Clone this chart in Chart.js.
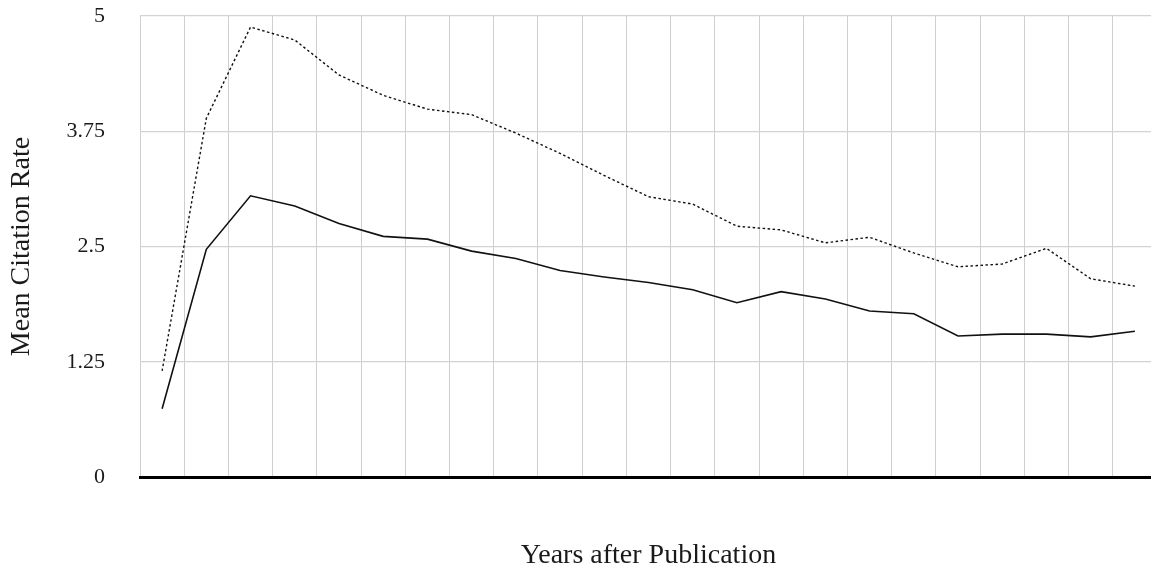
<!DOCTYPE html>
<html>
<head>
<meta charset="utf-8">
<title>Mean Citation Rate</title>
<script src="https://cdn.jsdelivr.net/npm/chart.js@4"></script>
<style>
    html, body { margin: 0; padding: 0; background: #fff; overflow: hidden; }
    .chart-box { width: 1158px; height: 573px; position: relative; }
</style>
</head>
<body>
<div class="chart-box"><canvas id="citeChart"></canvas></div>
<script>
// ─── DATA ───
const years = ['1', '2', '3', '4', '5', '6', '7', '8', '9', '10', '11', '12',
               '13', '14', '15', '16', '17', '18', '19', '20', '21', '22', '23'];
const solidRates = [0.74, 2.47, 3.05, 2.94, 2.75, 2.61, 2.58, 2.45, 2.37, 2.24, 2.17, 2.11,
                    2.03, 1.89, 2.01, 1.93, 1.80, 1.77, 1.53, 1.55, 1.55, 1.52, 1.58];
const dottedRates = [1.15, 3.89, 4.88, 4.74, 4.36, 4.14, 3.99, 3.93, 3.73, 3.51, 3.27, 3.04,
                     2.96, 2.72, 2.68, 2.54, 2.60, 2.43, 2.28, 2.31, 2.48, 2.15, 2.07];
const yTicks = [0, 1.25, 2.5, 3.75, 5];

Chart.defaults.font.family = "'Liberation Serif', 'DejaVu Serif', serif";
Chart.defaults.color = '#1a1a1a';

// ─── CHART ───
new Chart(document.getElementById('citeChart'), {
    type: 'line',
    data: {
        labels: years,
        datasets: [
            {
                label: 'Upper',
                data: dottedRates,
                borderColor: '#111',
                borderWidth: 1.4,
                borderDash: [2.5, 2.5],
                pointRadius: 0,
                tension: 0,
                fill: false,
            },
            {
                label: 'Mean',
                data: solidRates,
                borderColor: '#111',
                borderWidth: 1.6,
                pointRadius: 0,
                tension: 0,
                fill: false,
            }
        ]
    },
    options: {
        responsive: true,
        maintainAspectRatio: false,
        animation: false,
        layout: { padding: { top: 16, right: 1, left: 0, bottom: 0 } },
        plugins: {
            legend: { display: false },
            tooltip: { enabled: false },
        },
        scales: {
            x: {
                offset: true,
                grid: {
                    offset: true,
                    color: '#cfcfcf',
                    lineWidth: 1,
                    drawTicks: false,
                },
                border: { display: true, color: '#000', width: 3 },
                ticks: { display: false },
                title: {
                    display: true,
                    text: 'Years after Publication',
                    font: { size: 28 },
                    padding: { top: 0, bottom: 1 },
                },
                afterFit: s => { s.height = 96; },
            },
            y: {
                min: 0,
                max: 5,
                afterBuildTicks: s => { s.ticks = yTicks.map(v => ({ value: v })); },
                grid: {
                    color: '#d3d3d3',
                    lineWidth: 1.2,
                    drawTicks: false,
                },
                border: { display: false },
                ticks: {
                    padding: 35,
                    font: { size: 22 },
                    callback: v => String(v),
                },
                title: {
                    display: true,
                    text: 'Mean Citation Rate',
                    font: { size: 28 },
                    padding: { top: 5, bottom: 0 },
                },
                // tick padding is large, so drop the extra top/bottom space it adds
                afterFit: s => {
                    s.width = 140;
                    s.paddingTop = 12;
                    s.paddingBottom = 12;
                },
            }
        }
    }
});
</script>
</body>
</html>
